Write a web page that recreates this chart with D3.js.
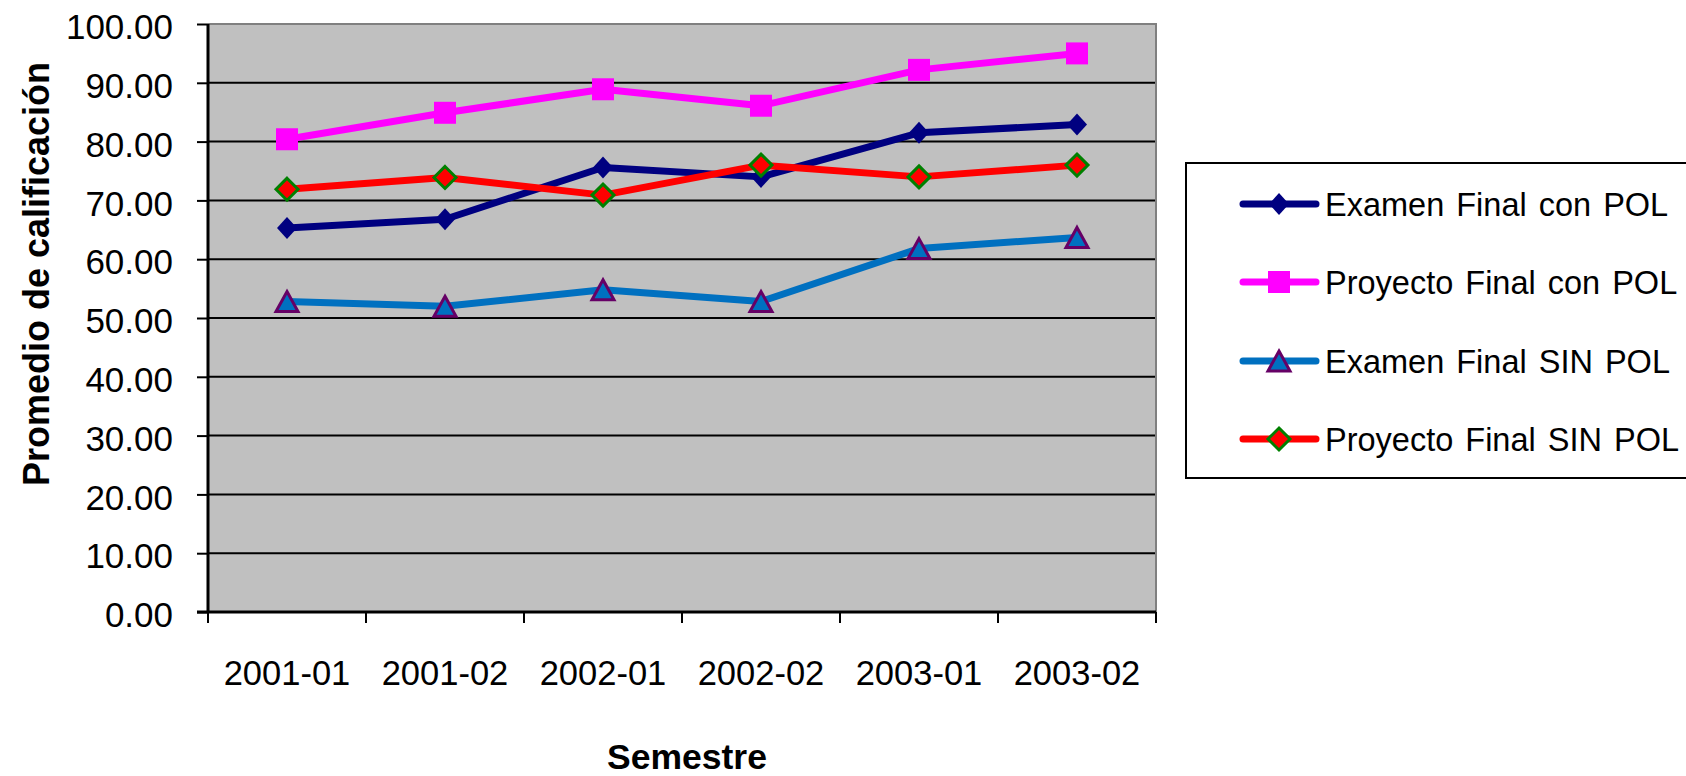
<!DOCTYPE html>
<html><head><meta charset="utf-8">
<script src="https://cdn.jsdelivr.net/npm/d3@7"></script>
<style>
html,body{margin:0;padding:0;background:#fff;}
svg{display:block;font-family:Arial,"Liberation Sans",sans-serif;}
</style></head>
<body><svg id="c" width="1686" height="776"></svg>
<script>
const categories = ["2001-01","2001-02","2002-01","2002-02","2003-01","2003-02"];
const examenConPOL   = [65.3, 66.8, 75.6, 74.0, 81.5, 82.9];
const proyectoConPOL = [80.4, 84.9, 88.9, 86.1, 92.2, 95.0];
const examenSinPOL   = [52.8, 52.0, 54.8, 52.8, 61.8, 63.7];
const proyectoSinPOL = [71.9, 73.9, 70.9, 76.0, 74.0, 76.0];
const yTicks = [0,10,20,30,40,50,60,70,80,90,100];
const seriesNames = ["Examen Final con POL","Proyecto Final con POL","Examen Final SIN POL","Proyecto Final SIN POL"];
const yTitle = "Promedio de calificación";
const xTitle = "Semestre";

const series = [
  {name: seriesNames[0], values: examenConPOL,   line:"#000080", marker:"diamond", fill:"#000080", stroke:"none"},
  {name: seriesNames[1], values: proyectoConPOL, line:"#FF00FF", marker:"square",  fill:"#FF00FF", stroke:"none"},
  {name: seriesNames[2], values: examenSinPOL,   line:"#0070C0", marker:"triangle",fill:"#0070C0", stroke:"#660066"},
  {name: seriesNames[3], values: proyectoSinPOL, line:"#FF0000", marker:"diamond2",fill:"#FF0000", stroke:"#008000"}
];

const svg = d3.select("#c");
const L = 208, R = 1156, T = 24, B = 612;

const x = d3.scaleBand().domain(categories).range([L, R]).paddingInner(0).paddingOuter(0);
const y = d3.scaleLinear().domain([0, 100]).range([B, T]);

svg.append("rect").attr("x", L).attr("y", T).attr("width", R - L).attr("height", B - T).attr("fill", "#C0C0C0");

svg.append("g").selectAll("line").data(yTicks.filter(d => d > 0 && d < 100)).join("line")
  .attr("x1", L).attr("x2", R).attr("y1", d => y(d)).attr("y2", d => y(d))
  .attr("stroke", "#000").attr("stroke-width", 2);

svg.append("path").attr("d", `M${L},${y(100)}H${R}V${B}`).attr("fill", "none").attr("stroke", "#808080").attr("stroke-width", 2);

const yAxis = d3.axisLeft(y).tickValues(yTicks).tickFormat(d3.format(".2f")).tickSize(11).tickPadding(24);
const gy = svg.append("g").attr("transform", `translate(${L},0)`).call(yAxis);
gy.select(".domain").attr("stroke", "#000").attr("stroke-width", 3).attr("d", `M0,${T}V${B}`);
gy.selectAll(".tick line").attr("stroke", "#000").attr("stroke-width", 2);
gy.selectAll(".tick text").attr("font-size", 35).attr("fill", "#000").attr("font-family", "Arial, 'Liberation Sans', sans-serif").attr("dy", "0.42em");

const xAxis = d3.axisBottom(x).tickSize(0).tickPadding(0);
const gx = svg.append("g").attr("transform", `translate(0,${B})`).call(xAxis);
gx.select(".domain").attr("stroke", "#000").attr("stroke-width", 3).attr("d", `M${L - 11},0H${R}`);
gx.selectAll(".tick text").attr("font-size", 34.5).attr("fill", "#000").attr("font-family", "Arial, 'Liberation Sans', sans-serif").attr("dy", null).attr("y", 73);
const bounds = categories.map(c => x(c)).concat([x(categories[categories.length - 1]) + x.bandwidth()]);
gx.append("g").selectAll("line").data(bounds).join("line")
  .attr("x1", d => d).attr("x2", d => d).attr("y1", 0).attr("y2", 11)
  .attr("stroke", "#000").attr("stroke-width", 2);

function markerPath(type) {
  if (type === "diamond") return "M0,-11L10,0L0,11L-10,0Z";
  if (type === "diamond2") return "M0,-11L11,0L0,11L-11,0Z";
  if (type === "square") return "M-11,-11H11V11H-11Z";
  if (type === "triangle") return "M0,-10L11,10L-11,10Z";
}

const line = d3.line().x((d, i) => x(categories[i]) + x.bandwidth() / 2).y(d => y(d));
series.forEach(s => {
  svg.append("path").datum(s.values).attr("d", line).attr("fill", "none")
    .attr("stroke", s.line).attr("stroke-width", 7).attr("stroke-linejoin", "round");
});
series.forEach(s => {
  svg.append("g").selectAll("path").data(s.values).join("path")
    .attr("transform", (d, i) => `translate(${x(categories[i]) + x.bandwidth() / 2},${y(d)})`)
    .attr("d", markerPath(s.marker)).attr("fill", s.fill)
    .attr("stroke", s.stroke).attr("stroke-width", s.stroke === "none" ? 0 : 3);
});

svg.append("text").attr("transform", "translate(49,274) rotate(-90)").attr("text-anchor", "middle")
  .attr("font-size", 36).attr("font-weight", "bold").text(yTitle);
svg.append("text").attr("x", 687).attr("y", 769).attr("text-anchor", "middle")
  .attr("font-size", 35.5).attr("font-weight", "bold").text(xTitle);

const lg = svg.append("g");
lg.append("rect").attr("x", 1186).attr("y", 163).attr("width", 520).attr("height", 315)
  .attr("fill", "#fff").attr("stroke", "#000").attr("stroke-width", 2);
const rowY = [204, 282, 361, 439];
series.forEach((s, i) => {
  const g = lg.append("g").attr("transform", `translate(0,${rowY[i]})`);
  g.append("line").attr("x1", 1243).attr("x2", 1316).attr("y1", 0).attr("y2", 0)
    .attr("stroke", s.line).attr("stroke-width", 7).attr("stroke-linecap", "round");
  g.append("path").attr("transform", "translate(1279,0)").attr("d", markerPath(s.marker))
    .attr("fill", s.fill).attr("stroke", s.stroke).attr("stroke-width", s.stroke === "none" ? 0 : 3);
  g.append("text").attr("x", 1325).attr("y", 12).attr("font-size", 32.5).attr("fill", "#000")
    .attr("word-spacing", 3).text(s.name);
});
</script></body></html>
